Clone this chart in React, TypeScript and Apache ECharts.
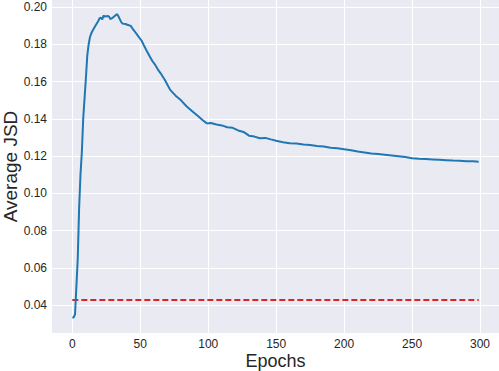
import React, { useEffect, useRef } from "react";
import * as echarts from "echarts";

const epochs = [0, 1, 2, 3, 4, 5, 6, 7, 8, 9, 10, 11, 12, 13, 14, 15, 17, 19, 20, 21, 22, 23, 24, 26, 27, 28, 29, 31, 32, 33, 34, 35, 36, 37, 39, 41, 43, 45, 47, 49, 51, 53, 55, 57, 59, 61, 63, 65, 68, 72, 76, 80, 84, 88, 92, 96, 99, 102, 106, 110, 114, 118, 122, 126, 130, 134, 138, 142, 146, 150, 155, 160, 165, 170, 175, 180, 185, 190, 195, 200, 205, 210, 215, 220, 225, 230, 235, 240, 245, 250, 255, 260, 265, 270, 275, 280, 285, 290, 295, 299];
const jsd = [0.0333, 0.0333, 0.035, 0.05, 0.065, 0.092, 0.11, 0.122, 0.14, 0.151, 0.162, 0.174, 0.18, 0.184, 0.186, 0.1875, 0.19, 0.1925, 0.194, 0.1945, 0.1935, 0.1955, 0.195, 0.1953, 0.195, 0.1937, 0.194, 0.1952, 0.1958, 0.1963, 0.195, 0.1935, 0.192, 0.1912, 0.191, 0.1905, 0.19, 0.1878, 0.186, 0.1839, 0.182, 0.179, 0.1762, 0.1735, 0.171, 0.169, 0.1665, 0.1645, 0.161, 0.1556, 0.1525, 0.15, 0.1468, 0.1443, 0.1418, 0.1393, 0.1376, 0.1378, 0.137, 0.1365, 0.1355, 0.1352, 0.1338, 0.133, 0.131, 0.1305, 0.1296, 0.1298, 0.129, 0.1283, 0.1275, 0.1269, 0.1268, 0.1263, 0.126, 0.1254, 0.1252, 0.1245, 0.1242, 0.1237, 0.1232, 0.1225, 0.122, 0.1214, 0.1211, 0.1207, 0.1203, 0.1199, 0.1195, 0.1189, 0.1186, 0.1184, 0.1182, 0.118, 0.1178, 0.1176, 0.1175, 0.1173, 0.1172, 0.117];
const baselineValue = 0.0427;
const baselineX = [0, 299];
const xTicks = [0, 50, 100, 150, 200, 250, 300];
const yTicks = [0.04, 0.06, 0.08, 0.1, 0.12, 0.14, 0.16, 0.18, 0.2];

export default function App() {
  const ref = useRef<HTMLDivElement>(null);
  useEffect(() => {
    if (!ref.current) return;
    const chart = echarts.init(ref.current, null, { renderer: "svg" });
    const font = "'Liberation Sans', Arial, sans-serif";
    chart.setOption({
      animation: false,
      backgroundColor: "#ffffff",
      grid: { left: 52, right: 0, top: 0, bottom: 38, containLabel: false, outerBoundsMode: "none", show: true, backgroundColor: "#eaeaf2", borderWidth: 0 },
      xAxis: {
        type: "value",
        min: -14.95,
        max: 313.95,
        name: "Epochs",
        nameLocation: "middle",
        nameGap: 19,
        nameMoveOverlap: false,
        nameTextStyle: { fontSize: 18, color: "#262626", fontFamily: font },
        axisLine: { show: false },
        axisTick: { show: false, customValues: xTicks },
        axisLabel: { customValues: xTicks, fontSize: 12, color: "#262626", fontFamily: font, margin: 5, formatter: (v: number) => String(v) },
        splitLine: { show: true, lineStyle: { color: "#ffffff", width: 1 } },
      },
      yAxis: {
        type: "value",
        min: 0.02495,
        max: 0.2039,
        name: "Average JSD",
        nameLocation: "middle",
        nameRotate: 90,
        nameGap: 32,
        nameMoveOverlap: false,
        nameTextStyle: { fontSize: 19, color: "#262626", fontFamily: font },
        axisLine: { show: false },
        axisTick: { show: false, customValues: yTicks },
        axisLabel: { customValues: yTicks, fontSize: 12, color: "#262626", fontFamily: font, margin: 5, formatter: (v: number) => v.toFixed(2) },
        splitLine: { show: true, lineStyle: { color: "#ffffff", width: 1 } },
      },
      series: [
        {
          type: "line",
          data: epochs.map((e, i) => [e, jsd[i]]),
          showSymbol: false,
          symbol: "none",
          lineStyle: { color: "#1f77b4", width: 2 },
          z: 3,
        },
        {
          type: "line",
          data: baselineX.map((e) => [e, baselineValue]),
          showSymbol: false,
          symbol: "none",
          lineStyle: { color: "#d62728", width: 2, type: [6, 3] },
          z: 2,
        },
      ],
    });
    return () => chart.dispose();
  }, []);
  return <div ref={ref} style={{ width: 499, height: 371, position: "absolute", left: 0, top: 0 }} />;
}
